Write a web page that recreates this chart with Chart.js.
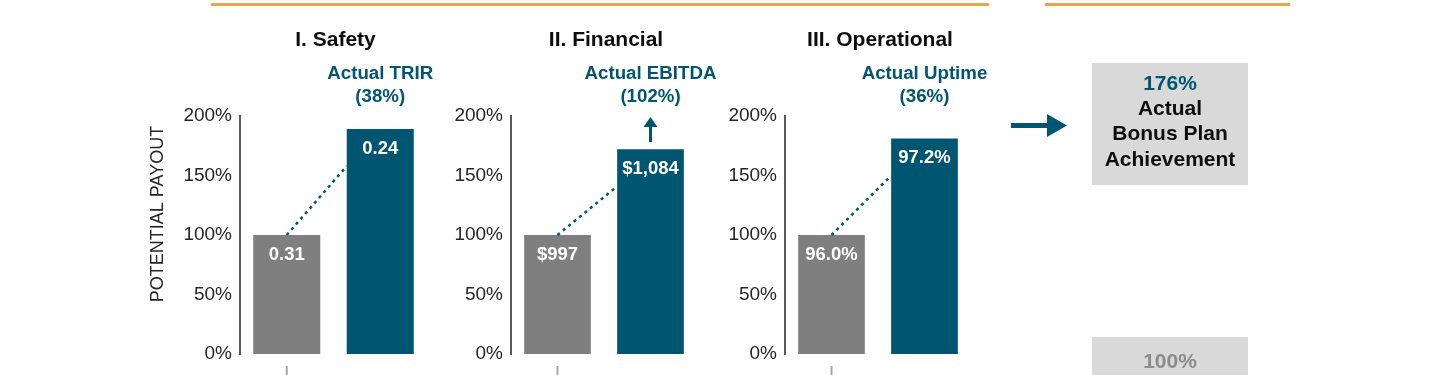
<!DOCTYPE html>
<html>
<head>
<meta charset="utf-8">
<script src="https://cdn.jsdelivr.net/npm/chart.js@4"></script>
<style>
  html, body { margin: 0; padding: 0; background: #fff; }
  #wrap { position: relative; width: 1440px; height: 375px; overflow: hidden; }
  #wrap canvas { position: absolute; left: 0; top: 0; }
</style>
</head>
<body>
<div id="wrap">
  <canvas id="c0" width="1440" height="375"></canvas>
  <canvas id="c1" width="1440" height="375"></canvas>
  <canvas id="c2" width="1440" height="375"></canvas>
</div>
<script>
// chart data
const panelTitles = ['I. Safety', 'II. Financial', 'III. Operational'];
const actualTitles = [['Actual TRIR', '(38%)'], ['Actual EBITDA', '(102%)'], ['Actual Uptime', '(36%)']];
const categories = ['Target', 'Actual'];
const targetPayout = [100, 100, 100];
const actualPayout = [189, 172, 181];
const targetText = ['0.31', '$997', '96.0%'];
const actualText = ['0.24', '$1,084', '97.2%'];
const upArrow = [false, true, false];
const yTicks = [0, 50, 100, 150, 200];
const yTitle = 'POTENTIAL PAYOUT';
const resultLines = ['176%', 'Actual', 'Bonus Plan', 'Achievement'];
const baseLine = '100%';

const teal = '#005670';
const gray = '#7f7f7f';
const font = '"Liberation Sans", Arial, sans-serif';

// layout of each panel (axis x position, category width)
const axisX = [240, 511, 785];
const catW = [93.5, 93, 93];

// stuff drawn once, outside the three bar panels
const decor = {
    id: 'decor',
    afterDraw(chart) {
        const ctx = chart.ctx;
        ctx.save();
        // orange rules on top
        ctx.strokeStyle = '#e8a54b';
        ctx.lineWidth = 3;
        ctx.lineCap = 'round';
        ctx.beginPath();
        ctx.moveTo(212, 4.5); ctx.lineTo(988, 4.5);
        ctx.moveTo(1046, 4.5); ctx.lineTo(1289, 4.5);
        ctx.stroke();

        // rotated y title
        ctx.translate(158, 214);
        ctx.rotate(-Math.PI / 2);
        ctx.fillStyle = '#262626';
        ctx.font = '18px ' + font;
        ctx.textAlign = 'center';
        ctx.textBaseline = 'middle';
        ctx.fillText(yTitle, 0, 0);
        ctx.restore();

        ctx.save();
        // arrow to result box
        ctx.fillStyle = teal;
        ctx.fillRect(1011, 123, 38, 5);
        ctx.beginPath();
        ctx.moveTo(1047, 114); ctx.lineTo(1067, 125.5); ctx.lineTo(1047, 137);
        ctx.closePath();
        ctx.fill();

        // result boxes
        ctx.fillStyle = '#d9d9d9';
        ctx.fillRect(1092, 63, 156, 122);
        ctx.fillRect(1092, 337, 156, 40);
        ctx.textAlign = 'center';
        ctx.textBaseline = 'middle';
        ctx.font = 'bold 21px ' + font;
        resultLines.forEach((t, k) => {
            ctx.fillStyle = k === 0 ? teal : '#0d0d0d';
            ctx.fillText(t, 1170, 84 + k * 25.3);
        });
        ctx.fillStyle = '#8c8c8c';
        ctx.fillText(baseLine, 1170, 362);
        ctx.restore();
    }
};

// labels, connector and headers for each panel
const panelDeco = {
    id: 'panelDeco',
    afterDatasetsDraw(chart) {
        const i = chart.options.panelIndex;
        const ctx = chart.ctx;
        const bars = chart.getDatasetMeta(0).data;
        const b0 = bars[0], b1 = bars[1];
        const area = chart.chartArea;
        ctx.save();

        // dotted connector
        ctx.strokeStyle = teal;
        ctx.lineWidth = 2.5;
        ctx.setLineDash([3, 4]);
        ctx.beginPath();
        ctx.moveTo(b0.x, b0.y);
        ctx.lineTo(b1.x - b1.width / 2, b1.y + 37);
        ctx.stroke();
        ctx.setLineDash([]);

        // values in the bars
        ctx.fillStyle = '#fff';
        ctx.font = 'bold 18.5px ' + font;
        ctx.textAlign = 'center';
        ctx.textBaseline = 'middle';
        ctx.fillText(targetText[i], b0.x, b0.y + 19.5);
        ctx.fillText(actualText[i], b1.x, b1.y + 19.5);

        // panel header
        ctx.fillStyle = '#0d0d0d';
        ctx.font = 'bold 21px ' + font;
        ctx.fillText(panelTitles[i], (area.left + area.right) / 2 + 2, 40);

        // actual label
        ctx.fillStyle = teal;
        ctx.font = 'bold 18.7px ' + font;
        ctx.fillText(actualTitles[i][0], b1.x, 74);
        ctx.fillText(actualTitles[i][1], b1.x, 97);

        if (upArrow[i]) {
            ctx.fillRect(b1.x - 1.5, 124, 3, 18);
            ctx.beginPath();
            ctx.moveTo(b1.x - 7, 127); ctx.lineTo(b1.x, 117); ctx.lineTo(b1.x + 7, 127);
            ctx.closePath();
            ctx.fill();
        }

        // small tick under the target bar
        ctx.strokeStyle = '#a6a6a6';
        ctx.lineWidth = 2;
        ctx.beginPath();
        ctx.moveTo(b0.x, 366);
        ctx.lineTo(b0.x, 375);
        ctx.stroke();
        ctx.restore();
    }
};

for (let i = 0; i < 3; i++) {
    const left = axisX[i];
    const right = axisX[i] + 2 * catW[i];
    new Chart(document.getElementById('c' + i), {
        type: 'bar',
        data: {
            labels: categories,
            datasets: [{
                data: [targetPayout[i], actualPayout[i]],
                backgroundColor: [gray, teal],
                borderWidth: 0,
                barPercentage: 0.717,
                categoryPercentage: 1
            }]
        },
        options: {
            panelIndex: i,
            responsive: false,
            devicePixelRatio: 1,
            animation: false,
            events: [],
            layout: {
                padding: { left: left - 60, right: 1440 - right, top: 116, bottom: 21 }
            },
            plugins: { legend: { display: false }, tooltip: { enabled: false } },
            scales: {
                x: { display: false },
                y: {
                    min: 0,
                    max: 200,
                    afterFit: s => { s.width = 60; },
                    afterBuildTicks: s => { s.ticks = yTicks.map(v => ({ value: v })); },
                    ticks: {
                        callback: v => v + '%',
                        font: { family: font, size: 19 },
                        color: '#262626',
                        padding: 0
                    },
                    grid: { display: false },
                    border: { display: true, color: '#595959', width: 2 }
                }
            }
        },
        plugins: i === 0 ? [panelDeco, decor] : [panelDeco]
    });
}
</script>
</body>
</html>
